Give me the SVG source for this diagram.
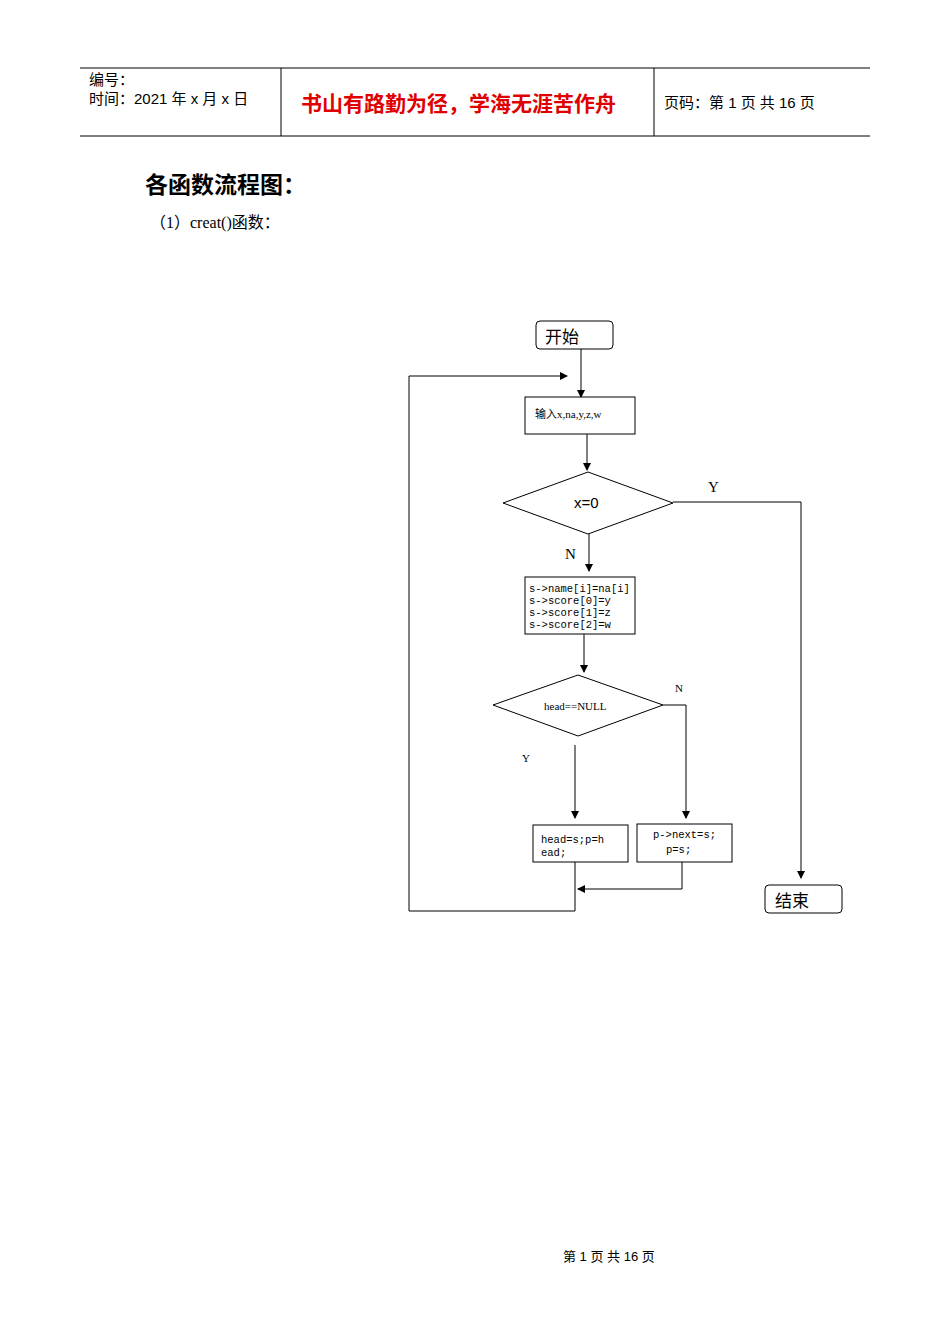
<svg xmlns="http://www.w3.org/2000/svg" width="950" height="1344" viewBox="0 0 950 1344">
<style>
.s{font-family:"Liberation Serif","Noto Sans CJK SC",serif;fill:#000}
.h{font-family:"Liberation Sans","Noto Sans CJK SC",sans-serif;fill:#000}
.m{font-family:"Liberation Mono","Noto Sans CJK SC",monospace;fill:#000}
.b{fill:#fff;stroke:#000;stroke-width:1}
.l{stroke:#000;stroke-width:1;fill:none}
</style>
<defs><marker id="a" markerWidth="8" markerHeight="8" refX="7" refY="4" orient="auto" markerUnits="userSpaceOnUse"><path d="M0,0L8,4L0,8z" fill="#000"/></marker></defs>
<rect width="950" height="1344" fill="#fff"/>
<g id="header">
<line x1="80" y1="68" x2="870" y2="68" stroke="#000"/>
<line x1="80" y1="136" x2="870" y2="136" stroke="#000"/>
<line x1="281" y1="68" x2="281" y2="136" stroke="#000"/>
<line x1="654" y1="68" x2="654" y2="136" stroke="#000"/>
<text x="89" y="85" class="h" font-size="15">编号：</text>
<text x="89" y="104" class="h" font-size="15">时间：2021 年 x 月 x 日</text>
<text x="301" y="111" class="h" font-size="21" fill="#e00000" style="fill:#e00000;font-weight:bold">书山有路勤为径，学海无涯苦作舟</text>
<text x="664" y="108" class="h" font-size="15">页码：第 1 页  共 16 页</text>
</g>
<text x="145" y="193" class="h" font-size="23" font-weight="bold">各函数流程图：</text>
<text x="150" y="228" class="s" font-size="16">（1）creat()函数：</text>
<g id="connectors">
<line x1="581" y1="349" x2="581" y2="397" class="l" marker-end="url(#a)"/>
<line x1="587" y1="434" x2="587" y2="470" class="l" marker-end="url(#a)"/>
<line x1="589" y1="534" x2="589" y2="571" class="l" marker-end="url(#a)"/>
<line x1="584" y1="634" x2="584" y2="672" class="l" marker-end="url(#a)"/>
<polyline points="673,502 801,502 801,878" class="l" marker-end="url(#a)"/>
<polyline points="663,705 686,705 686,818" class="l" marker-end="url(#a)"/>
<line x1="575" y1="745" x2="575" y2="818" class="l" marker-end="url(#a)"/>
<polyline points="682,862 682,889 578,889" class="l" marker-end="url(#a)"/>
<polyline points="575,862 575,911 409,911 409,376 567,376" class="l" marker-end="url(#a)"/>
<text x="708" y="492" class="s" font-size="15">Y</text>
<text x="565" y="559" class="s" font-size="15">N</text>
<text x="675" y="692" class="s" font-size="11">N</text>
<text x="522" y="762" class="s" font-size="11">Y</text>
</g>
<g id="start"><rect x="536" y="321" width="77" height="28" rx="4" class="b" stroke="#666"/><text x="545" y="343" class="h" font-size="17">开始</text></g>
<g id="input"><rect x="525" y="397" width="110" height="37" class="b"/><text x="535" y="418" class="s" font-size="11">输入x,na,y,z,w</text></g>
<g id="d1"><polygon points="503,503 588,472 673,503 588,534" class="b"/><text x="574" y="508" class="h" font-size="15">x=0</text></g>
<g id="assign"><rect x="525" y="577" width="110" height="57" class="b"/>
<text class="m" font-size="10.5"><tspan x="529" y="592">s-&gt;name[i]=na[i]</tspan><tspan x="529" y="604">s-&gt;score[0]=y</tspan><tspan x="529" y="616">s-&gt;score[1]=z</tspan><tspan x="529" y="628">s-&gt;score[2]=w</tspan></text></g>
<g id="d2"><polygon points="493,705 578,675 663,705 578,736" class="b"/><text x="544" y="710" class="s" font-size="11">head==NULL</text></g>
<g id="b1"><rect x="533" y="825" width="95" height="37" class="b"/><text class="m" font-size="10.5"><tspan x="541" y="843">head=s;p=h</tspan><tspan x="541" y="856">ead;</tspan></text></g>
<g id="b2"><rect x="637" y="824" width="95" height="38" class="b"/><text class="m" font-size="10.5"><tspan x="653" y="838">p-&gt;next=s;</tspan><tspan x="666" y="853">p=s;</tspan></text></g>
<g id="end"><rect x="765" y="885" width="77" height="28" rx="4" class="b" stroke="#666"/><text x="775" y="907" class="h" font-size="17">结束</text></g>
<text x="563" y="1261" class="h" font-size="13">第  1  页  共  16  页</text>
</svg>
